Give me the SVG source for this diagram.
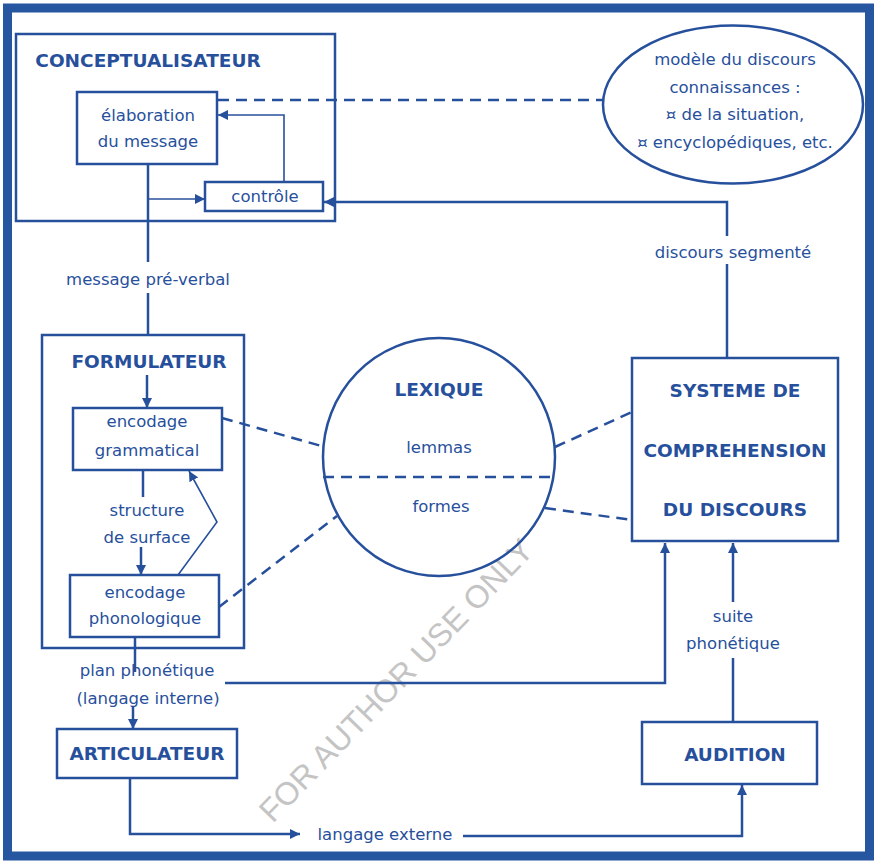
<svg xmlns="http://www.w3.org/2000/svg" width="877" height="861" viewBox="0 0 877 861">
<defs>
<style>
.box{fill:#fff;stroke:#27509c;stroke-width:2.5}
.frame{fill:none;stroke:#27509c;stroke-width:2.5}
.ln{fill:none;stroke:#27509c;stroke-width:2.5}
.thin{fill:none;stroke:#27509c;stroke-width:1.6}
.dash{fill:none;stroke:#27509c;stroke-width:2.5;stroke-dasharray:11 7}
.t{font-family:"DejaVu Sans","Liberation Sans",sans-serif;fill:#27509c;font-size:16.5px;text-anchor:middle}
.b{font-family:"DejaVu Sans","Liberation Sans",sans-serif;fill:#27509c;font-size:18.5px;font-weight:bold;text-anchor:middle}
.wm{font-family:"Liberation Sans","DejaVu Sans",sans-serif;fill:#c4c4c4;font-size:32px;text-anchor:middle}
</style>
<marker id="ah" viewBox="0 0 10 10" refX="10" refY="5" markerWidth="10" markerHeight="10" markerUnits="userSpaceOnUse" orient="auto">
<path d="M0,0 L10,5 L0,10 z" fill="#27509c"/>
</marker>
</defs>
<rect x="0" y="0" width="877" height="861" fill="#fff"/>
<rect x="7.5" y="8" width="862" height="848" fill="none" stroke="#2656a0" stroke-width="9"/>

<text class="wm" transform="translate(404,688) rotate(-46)">FOR AUTHOR USE ONLY</text>

<g id="connectors">
<line class="ln" x1="148" y1="164" x2="148" y2="262"/>
<line class="ln" x1="148" y1="293" x2="148" y2="335"/>
<line class="thin" x1="148" y1="199" x2="205" y2="199" marker-end="url(#ah)"/>
<polyline class="thin" points="284,182 284,115 218,115" marker-end="url(#ah)"/>
<line class="dash" x1="218" y1="100" x2="603" y2="100"/>
<line class="ln" x1="727" y1="264" x2="727" y2="358"/>
<polyline class="ln" points="727,236 727,202 324,202" marker-end="url(#ah)"/>
<line class="ln" x1="147" y1="375" x2="147" y2="408" marker-end="url(#ah)"/>
<line class="ln" x1="143" y1="470" x2="143" y2="497"/>
<line class="ln" x1="141" y1="547" x2="141" y2="575" marker-end="url(#ah)"/>
<polyline class="thin" points="178,575 217,522 189,471" marker-end="url(#ah)"/>
<line class="dash" x1="222" y1="418" x2="325" y2="447"/>
<line class="dash" x1="219" y1="607" x2="337" y2="516"/>
<line class="dash" x1="555" y1="447" x2="632" y2="412"/>
<line class="dash" x1="545" y1="508" x2="632" y2="520"/>
<line class="ln" x1="135" y1="637" x2="135" y2="672"/>
<line class="ln" x1="133" y1="707" x2="133" y2="729" marker-end="url(#ah)"/>
<polyline class="ln" points="225,683 665,683 665,543" marker-end="url(#ah)"/>
<line class="ln" x1="733" y1="602" x2="733" y2="543" marker-end="url(#ah)"/>
<line class="ln" x1="733" y1="658" x2="733" y2="722"/>
<polyline class="ln" points="130,778 130,834 300,834" marker-end="url(#ah)"/>
<polyline class="ln" points="463,836 742,836 742,785" marker-end="url(#ah)"/>
</g>

<g id="conceptualisateur">
<rect class="frame" x="16" y="34" width="319" height="187"/>
<text class="b" x="148" y="67">CONCEPTUALISATEUR</text>
</g>
<g id="elaboration">
<rect class="box" x="77" y="92" width="140" height="72"/>
<text class="t" x="148" y="121">élaboration</text>
<text class="t" x="148" y="147">du message</text>
</g>
<g id="controle">
<rect class="box" x="205" y="182" width="118" height="29"/>
<text class="t" x="265" y="202">contrôle</text>
</g>
<g id="modele">
<ellipse class="box" cx="733" cy="104.5" rx="130" ry="79"/>
<text class="t" x="735" y="65">modèle du discours</text>
<text class="t" x="735" y="93">connaissances :</text>
<text class="t" x="735" y="120">¤ de la situation,</text>
<text class="t" x="735" y="148">¤ encyclopédiques, etc.</text>
</g>
<g id="label-preverbal"><text class="t" x="148" y="285">message pré-verbal</text></g>
<g id="label-segmente"><text class="t" x="733" y="258">discours segmenté</text></g>

<g id="formulateur">
<rect class="frame" x="42" y="335" width="202" height="313"/>
<text class="b" x="149" y="368">FORMULATEUR</text>
</g>
<g id="encodage-grammatical">
<rect class="box" x="73" y="408" width="149" height="62"/>
<text class="t" x="147" y="427">encodage</text>
<text class="t" x="147" y="456">grammatical</text>
</g>
<g id="label-structure">
<text class="t" x="147" y="516">structure</text>
<text class="t" x="147" y="543">de surface</text>
</g>
<g id="encodage-phonologique">
<rect class="box" x="70" y="575" width="149" height="62"/>
<text class="t" x="145" y="598">encodage</text>
<text class="t" x="145" y="624">phonologique</text>
</g>

<g id="lexique">
<ellipse class="frame" cx="439" cy="457" rx="116" ry="119"/>
<line class="dash" x1="323" y1="477" x2="555" y2="477"/>
<text class="b" x="439" y="396">LEXIQUE</text>
<text class="t" x="439" y="453">lemmas</text>
<text class="t" x="441" y="512">formes</text>
</g>

<g id="systeme">
<rect class="box" x="632" y="358" width="206" height="183"/>
<text class="b" x="735" y="397">SYSTEME DE</text>
<text class="b" x="735" y="457">COMPREHENSION</text>
<text class="b" x="735" y="516">DU DISCOURS</text>
</g>

<g id="label-plan">
<text class="t" x="147" y="676">plan phonétique</text>
<text class="t" x="148" y="704">(langage interne)</text>
</g>
<g id="label-suite">
<text class="t" x="733" y="622">suite</text>
<text class="t" x="733" y="649">phonétique</text>
</g>

<g id="articulateur">
<rect class="box" x="57" y="729" width="180" height="49"/>
<text class="b" x="147" y="760">ARTICULATEUR</text>
</g>
<g id="audition">
<rect class="box" x="642" y="722" width="175" height="62"/>
<text class="b" x="735" y="761">AUDITION</text>
</g>
<g id="label-externe"><text class="t" x="385" y="840">langage externe</text></g>
</svg>
